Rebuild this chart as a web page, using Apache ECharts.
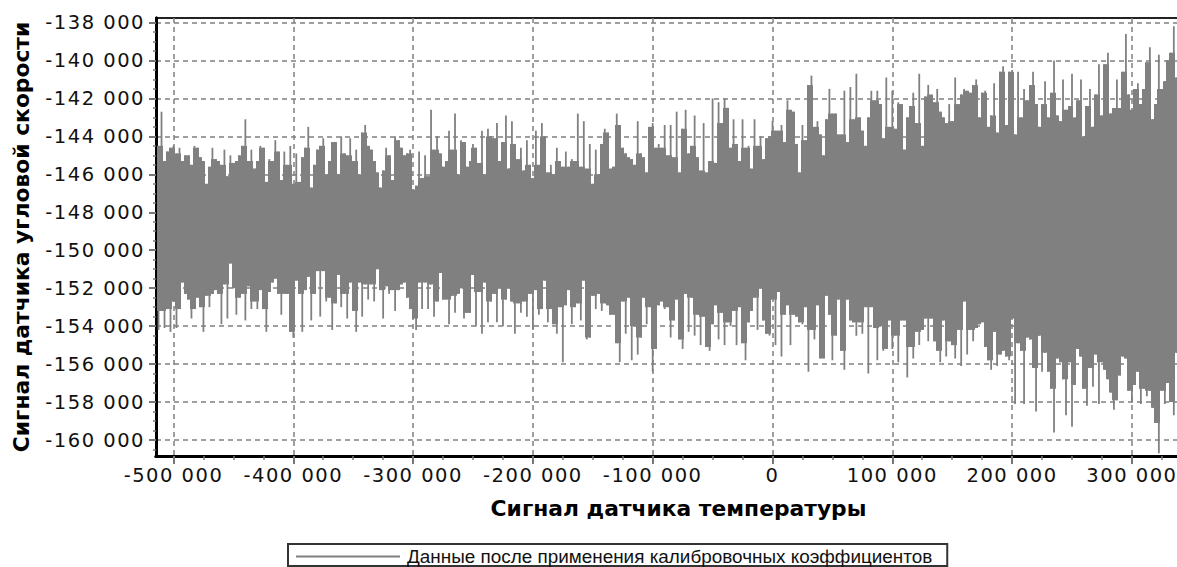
<!DOCTYPE html>
<html><head><meta charset="utf-8">
<script src="https://cdn.jsdelivr.net/npm/echarts@6/dist/echarts.min.js"></script>
<style>html,body{margin:0;padding:0;background:#fff;overflow:hidden}#c{width:1177px;height:567px}#c text[style*="19.5px"]{letter-spacing:1.5px}</style>
</head><body><div id="c"></div>
<script>
const temperature=[-512500,-510000,-507500,-505000,-502500,-500000,-497500,-495000,-492500,-490000,-487500,-485000,-482500,-480000,-477500,-475000,-472500,-470000,-467500,-465000,-462500,-460000,-457500,-455000,-452500,-450000,-447500,-445000,-442500,-440000,-437500,-435000,-432500,-430000,-427500,-425000,-422500,-420000,-417500,-415000,-412500,-410000,-407500,-405000,-402500,-400000,-397500,-395000,-392500,-390000,-387500,-385000,-382500,-380000,-377500,-375000,-372500,-370000,-367500,-365000,-362500,-360000,-357500,-355000,-352500,-350000,-347500,-345000,-342500,-340000,-337500,-335000,-332500,-330000,-327500,-325000,-322500,-320000,-317500,-315000,-312500,-310000,-307500,-305000,-302500,-300000,-297500,-295000,-292500,-290000,-287500,-285000,-282500,-280000,-277500,-275000,-272500,-270000,-267500,-265000,-262500,-260000,-257500,-255000,-252500,-250000,-247500,-245000,-242500,-240000,-237500,-235000,-232500,-230000,-227500,-225000,-222500,-220000,-217500,-215000,-212500,-210000,-207500,-205000,-202500,-200000,-197500,-195000,-192500,-190000,-187500,-185000,-182500,-180000,-177500,-175000,-172500,-170000,-167500,-165000,-162500,-160000,-157500,-155000,-152500,-150000,-147500,-145000,-142500,-140000,-137500,-135000,-132500,-130000,-127500,-125000,-122500,-120000,-117500,-115000,-112500,-110000,-107500,-105000,-102500,-100000,-97500,-95000,-92500,-90000,-87500,-85000,-82500,-80000,-77500,-75000,-72500,-70000,-67500,-65000,-62500,-60000,-57500,-55000,-52500,-50000,-47500,-45000,-42500,-40000,-37500,-35000,-32500,-30000,-27500,-25000,-22500,-20000,-17500,-15000,-12500,-10000,-7500,-5000,-2500,0,2500,5000,7500,10000,12500,15000,17500,20000,22500,25000,27500,30000,32500,35000,37500,40000,42500,45000,47500,50000,52500,55000,57500,60000,62500,65000,67500,70000,72500,75000,77500,80000,82500,85000,87500,90000,92500,95000,97500,100000,102500,105000,107500,110000,112500,115000,117500,120000,122500,125000,127500,130000,132500,135000,137500,140000,142500,145000,147500,150000,152500,155000,157500,160000,162500,165000,167500,170000,172500,175000,177500,180000,182500,185000,187500,190000,192500,195000,197500,200000,202500,205000,207500,210000,212500,215000,217500,220000,222500,225000,227500,230000,232500,235000,237500,240000,242500,245000,247500,250000,252500,255000,257500,260000,262500,265000,267500,270000,272500,275000,277500,280000,282500,285000,287500,290000,292500,295000,297500,300000,302500,305000,307500,310000,312500,315000,317500,320000,322500,325000,327500,330000,332500,335000,337500];
const signalUpper=[
-144500,-142700,-145300,-144800,-144600,-144500,-144900,-144600,-145300,-145000,-145000,-145500,-144500,-144600,-145100,-145300,-146500,-145600,-144600,-145200,-145300,-145500,-144700,-146100,-145000,-145400,-145300,-145000,-144500,-143100,-145300,-144700,-145700,-145300,-144500,-144600,-146400,-145200,-145300,-144200,-144800,-146300,-144800,-145500,-144500,-146500,-144900,-146400,-145100,-144600,-143500,-146700,-145500,-144700,-144500,-144100,-146000,-145300,-144300,-144300,-146000,-144000,-144900,-145000,-144100,-145300,-144700,-146000,-143800,-143400,-144500,-144700,-145300,-145900,-146700,-145800,-144600,-145000,-146300,-144000,-144200,-144600,-145000,-144900,-144700,-146800,-146600,-144800,-146200,-145000,-146100,-142600,-144700,-144000,-144900,-145600,-145300,-143700,-144700,-142800,-146000,-144200,-144300,-145600,-145300,-144400,-144600,-145400,-143700,-146000,-143600,-144000,-144100,
-143300,-145300,-144300,-142900,-145700,-143200,-144400,-145200,-144600,-145800,-144200,-145500,-146200,-143700,-145500,-143300,-144000,-145900,-145500,-146000,-144600,-145300,-145600,-144800,-145600,-145200,-145300,-142800,-145600,-143200,-145700,-144400,-146500,-144700,-146000,-144400,-143600,-143800,-145700,-145600,-142800,-143400,-144600,-144900,-145100,-145200,-145500,-143200,-144900,-145100,-145900,-143500,-143300,-144600,-144400,-144600,-143400,-145000,-143400,-145100,-142700,-145900,-143600,-142600,-144900,-144500,-142900,-145100,-145800,-143300,-145900,-145300,-142000,-145400,-142200,-143300,-142000,-142500,-144600,-143100,-144400,-145300,-143100,-144600,-144500,-145700,-143100,-144500,-144000,-145200,-144100,-144000,-143200,-143700,-143700,-143400,-144300,-142100,-142600,-142700,-144400,-145900,-143400,-144200,-141300,-140800,-143500,-143200,-143900,-145000,-143100,-141500,-142800,
-142800,-143900,-143900,-141600,-144300,-141400,-143100,-140700,-143000,-143700,-144500,-143000,-141600,-142100,-141600,-142300,-144100,-140900,-143500,-141600,-143600,-142200,-142300,-144700,-143000,-142400,-141700,-143300,-140700,-144500,-141900,-141300,-141800,-142200,-141500,-142700,-143000,-143300,-142300,-143200,-140900,-142300,-141800,-141500,-141600,-141700,-141300,-141000,-143000,-141700,-141600,-143500,-142900,-141200,-143800,-140600,-140300,-143400,-140600,-140500,-143900,-140600,-143000,-141500,-142100,-141300,-140600,-142300,-143500,-142300,-141100,-143000,-141700,-140000,-142900,-143200,-141000,-142600,-142400,-140700,-143000,-142100,-141000,-144000,-142400,-141500,-143500,-141800,-140200,-142900,-140200,-139600,-142800,-142500,-141000,-142500,-140600,-138600,-141800,-142600,-141500,-141200,-142300,-141500,-140100,-139300,-143100,-142300,-139700,-141500,-141100,-140000,-139600,-138200,-140900];
const signalLower=[
-154200,-153200,-154100,-153100,-154300,-152700,-154100,-153100,-151700,-152300,-152600,-153600,-153100,-152500,-153000,-154300,-152400,-153000,-152300,-152100,-152300,-153900,-151800,-153600,-150700,-152000,-153400,-152500,-152300,-153700,-151900,-153100,-152700,-153100,-152100,-153100,-154300,-152200,-151700,-151500,-152300,-153400,-152300,-152300,-154300,-154600,-151600,-152300,-154300,-152100,-151400,-153700,-152300,-151100,-153500,-151100,-152700,-152500,-154200,-152800,-151300,-153000,-152300,-153600,-151700,-153200,-154300,-151700,-153500,-151800,-152600,-151800,-152700,-151000,-152100,-153600,-151900,-152300,-152100,-153200,-152100,-151800,-151700,-152500,-153100,-153600,-154200,-151700,-153100,-151700,-153100,-151800,-153500,-152700,-151200,-152600,-152600,-153900,-152400,-153300,-152300,-152000,-153600,-153300,-153300,-151300,-154000,-152200,-154400,-151700,-153800,-152700,-152300,
-153800,-152000,-154000,-152600,-152000,-152700,-154400,-152800,-153300,-152700,-153500,-152300,-154200,-152100,-153400,-153100,-151600,-153800,-153100,-153900,-154400,-153000,-155900,-152900,-152100,-153900,-153000,-152800,-153700,-151600,-154700,-154600,-152400,-153100,-152300,-153200,-152800,-152900,-153400,-153400,-154900,-155900,-152700,-154400,-152500,-155800,-154000,-155500,-154600,-152500,-153900,-153000,-156400,-155200,-152900,-152700,-153100,-153000,-154600,-153700,-152600,-154700,-155200,-152300,-154300,-152500,-154500,-153400,-155000,-153500,-155100,-155300,-153900,-152900,-154700,-153300,-155000,-153800,-154000,-153200,-155000,-153000,-154900,-155800,-153800,-153200,-152500,-154200,-152000,-153700,-154400,-154500,-152600,-155000,-152200,-155600,-153400,-152900,-155000,-153400,-153500,-153800,-153900,-153000,-156400,-154200,-154700,-152900,-155700,-155700,-152400,-153400,-155800,
-154500,-152600,-155300,-156300,-152600,-153700,-153800,-154500,-153800,-154400,-153000,-156500,-153000,-154100,-155800,-154000,-155300,-155200,-153700,-155200,-154500,-155900,-153700,-153700,-156700,-155100,-155700,-154300,-155000,-154200,-153600,-154800,-153600,-154800,-155300,-155900,-153700,-155600,-154800,-155000,-155700,-154200,-156100,-152700,-155500,-154200,-154800,-154100,-153900,-153800,-155100,-155800,-156300,-154300,-156100,-155500,-155300,-155600,-155800,-153600,-158100,-154900,-155300,-158100,-154600,-154700,-156200,-158500,-154500,-156400,-155400,-156400,-157300,-159600,-155700,-155900,-156800,-158700,-155900,-159300,-157100,-155200,-155600,-157300,-158200,-156200,-157200,-155500,-158100,-155900,-156300,-156800,-157500,-158400,-157900,-156600,-155600,-155700,-157400,-158000,-157100,-156400,-158100,-157300,-157700,-157400,-158300,-159100,-160700,-157400,-158100,-157000,-158000,-158700,-155400];
const xTickValues=[-500000,-400000,-300000,-200000,-100000,0,100000,200000,300000];
const xMinorValues=[-475000,-450000,-425000,-375000,-350000,-325000,-275000,-250000,-225000,-175000,-150000,-125000,-75000,-50000,-25000,25000,50000,75000,125000,150000,175000,225000,250000,275000,325000];
const yTickValues=[-160000,-158000,-156000,-154000,-152000,-150000,-148000,-146000,-144000,-142000,-140000,-138000];
const yMinorValues=[-160500,-159500,-159000,-158500,-157500,-157000,-156500,-155500,-155000,-154500,-153500,-153000,-152500,-151500,-151000,-150500,-149500,-149000,-148500,-147500,-147000,-146500,-145500,-145000,-144500,-143500,-143000,-142500,-141500,-141000,-140500,-139500,-139000,-138500];
const seriesName='Данные после применения калибровочных коэффициентов';
const xTitle='Сигнал датчика температуры';
const yTitle='Сигнал датчика угловой скорости';
const GRAY='#808080';
const X_RANGE={min:-514600,max:340150},Y_RANGE={min:-160843,max:-137763};
const spaced=v=>{const a=Math.abs(v),k=Math.floor(a/1000),r=a%1000;return (v<0?'-':'')+(k?k+' '+String(r).padStart(3,'0'):String(r));};
const data=temperature.map((t,i)=>[t,signalUpper[i],signalLower[i]]);
const labelFont={color:'#111',fontFamily:'DejaVu Sans',fontSize:19.5};
const titleFont={color:'#000',fontFamily:'DejaVu Sans',fontWeight:'bold',fontSize:21.8};
const axisLine={show:true,onZero:false,lineStyle:{color:'#000',width:3}};
const chart=echarts.init(document.getElementById('c'),null,{renderer:'svg'});
chart.setOption({
 animation:false,backgroundColor:'#fff',
 grid:{left:156,top:18,width:1024,height:438,outerBoundsMode:'none',show:true,borderColor:'#222',borderWidth:2,backgroundColor:'#fff'},
 legend:{left:288,top:544,padding:[3,15,0,8],borderColor:'#333',borderWidth:2,backgroundColor:'#fff',itemWidth:104,itemHeight:2,itemGap:0,icon:'rect',
  textStyle:{fontFamily:'Liberation Sans',fontSize:18.9,lineHeight:16,color:'#111',padding:[0,0,0,2]},data:[seriesName]},
 xAxis:[{...X_RANGE,type:'value',name:xTitle,nameLocation:'middle',nameGap:41,nameTextStyle:{...titleFont,padding:[0,0,0,21]},
  axisLine,axisTick:{length:8,customValues:xTickValues,lineStyle:{color:'#777',width:2}},
  splitLine:{show:true,lineStyle:{color:GRAY,type:[5,4],width:1.5}},
  axisLabel:{...labelFont,margin:9,customValues:xTickValues,formatter:spaced}},
  {...X_RANGE,type:'value',position:'bottom',axisLine,axisLabel:{show:false},splitLine:{show:false},
  axisTick:{length:4,customValues:xMinorValues,lineStyle:{color:'#777',width:1.5}}}],
 yAxis:[{...Y_RANGE,type:'value',name:yTitle,nameLocation:'middle',nameGap:124,nameTextStyle:titleFont,
  axisLine,axisTick:{length:7,customValues:yTickValues,lineStyle:{color:'#777',width:2}},
  splitLine:{show:true,lineStyle:{color:GRAY,type:[5,4],width:1.5}},
  axisLabel:{...labelFont,margin:11,customValues:yTickValues,formatter:spaced}},
  {...Y_RANGE,type:'value',position:'left',axisLine,axisLabel:{show:false},splitLine:{show:false},
  axisTick:{length:3,customValues:yMinorValues,lineStyle:{color:'#777',width:1.5}}}],
 series:[{name:seriesName,type:'custom',clip:true,z:5,itemStyle:{color:GRAY},encode:{x:0,y:[1,2]},data,
  renderItem(params,api){
   const i=params.dataIndex,t=api.value(0),u=signalUpper[i],l=signalLower[i];
   const nu=Math.max(signalUpper[i-1]??-1e9,signalUpper[i+1]??-1e9),nl=Math.min(signalLower[i-1]??0,signalLower[i+1]??0);
   const a=api.coord([t-1250,Math.min(u,nu)]),b=api.coord([t+1250,Math.max(l,nl)]);
   const s=api.coord([t,u]),e=api.coord([t,l]);
   const x0=Math.round(a[0]),x1=Math.round(b[0]);
   return {type:'group',children:[
    {type:'rect',shape:{x:x0,y:a[1],width:x1-x0,height:b[1]-a[1]},style:{fill:GRAY}},
    {type:'rect',shape:{x:s[0]-0.9,y:s[1],width:1.8,height:e[1]-s[1]},style:{fill:GRAY}}
   ]};
  }}]
});
</script></body></html>
